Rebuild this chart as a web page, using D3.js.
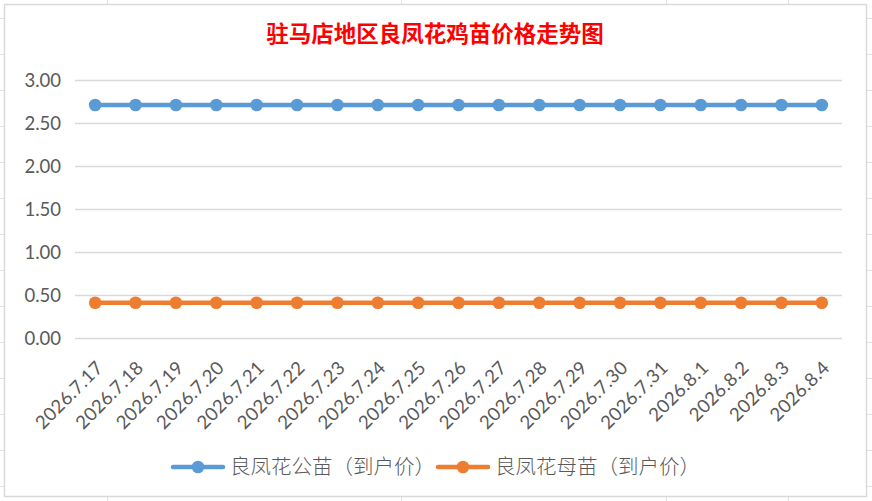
<!DOCTYPE html>
<html><head><meta charset="utf-8">
<script src="https://cdn.jsdelivr.net/npm/d3@7/dist/d3.min.js"></script>
<style>html,body{margin:0;padding:0;background:#fff;}svg{display:block;}</style>
</head><body>
<svg id="c" width="872" height="501"></svg>
<script>
const title = "驻马店地区良凤花鸡苗价格走势图";
const categories = ["2026.7.17","2026.7.18","2026.7.19","2026.7.20","2026.7.21","2026.7.22","2026.7.23","2026.7.24","2026.7.25","2026.7.26","2026.7.27","2026.7.28","2026.7.29","2026.7.30","2026.7.31","2026.8.1","2026.8.2","2026.8.3","2026.8.4"];
const seriesNames = ["良凤花公苗（到户价）","良凤花母苗（到户价）"];
const maleValues = [2.71,2.71,2.71,2.71,2.71,2.71,2.71,2.71,2.71,2.71,2.71,2.71,2.71,2.71,2.71,2.71,2.71,2.71,2.71];
const femaleValues = [0.41,0.41,0.41,0.41,0.41,0.41,0.41,0.41,0.41,0.41,0.41,0.41,0.41,0.41,0.41,0.41,0.41,0.41,0.41];
const yTicks = [0,0.5,1,1.5,2,2.5,3];
const colors = ["#5b9bd5","#ed7d31"];

const svg = d3.select("#c");
const W = 872, H = 501;

// spreadsheet grid behind chart
const sheet = svg.append("g").attr("stroke","#e1e1e1").attr("stroke-width",1);
[107,401,666,788].forEach(x=>sheet.append("line").attr("x1",x+0.5).attr("x2",x+0.5).attr("y1",0).attr("y2",H));
for(let y=18;y<H;y+=36) sheet.append("line").attr("x1",0).attr("x2",W).attr("y1",y+0.5).attr("y2",y+0.5);

// chart area
svg.append("rect").attr("x",4.5).attr("y",4.5).attr("width",862).attr("height",492)
  .attr("fill","#fff").attr("stroke","#d9d9d9").attr("stroke-width",1.5);

const left = 75, right = 842, y0 = 338, y3 = 80;
const x = d3.scaleBand().domain(categories).range([left,right]);
const y = d3.scaleLinear().domain([0,3]).range([y0,y3]);
const cx = d => x(d) + x.bandwidth()/2;

// title
svg.append("text").attr("x",435).attr("y",42).attr("text-anchor","middle")
  .attr("fill","#ff0000").style("font-family","'Noto Sans CJK SC'").style("font-weight","700")
  .style("font-size","22.5px").text(title);

// gridlines
const yAxis = d3.axisLeft(y).tickValues(yTicks).tickSize(-(right-left)).tickFormat(d3.format(".2f")).tickPadding(14);
const ga = svg.append("g").attr("transform",`translate(${left},0)`).call(yAxis);
ga.select(".domain").remove();
ga.selectAll(".tick line").attr("stroke","#d9d9d9").attr("stroke-width",1.5);
ga.selectAll(".tick text").attr("fill","#595959").style("font-family","Lato").style("font-size","18.5px").attr("dy","0.35em");

// x axis labels
const xAxis = d3.axisBottom(x).tickSize(0).tickPadding(0);
const gx = svg.append("g").attr("transform",`translate(0,${y0})`).call(xAxis);
gx.select(".domain").remove();
gx.selectAll(".tick text").attr("fill","#595959").style("font-family","Lato").style("font-size","18.5px")
  .style("letter-spacing","0.3px")
  .attr("text-anchor","end").attr("dy","0").attr("y",0)
  .attr("transform","translate(9,31) rotate(-45)");

// series
const line = d3.line().x((d,i)=>cx(categories[i])).y(d=>y(d));
[maleValues,femaleValues].forEach((vals,k)=>{
  svg.append("path").datum(vals).attr("d",line).attr("fill","none")
    .attr("stroke",colors[k]).attr("stroke-width",4.5).attr("stroke-linejoin","round");
  svg.append("g").selectAll("circle").data(vals).join("circle")
    .attr("cx",(d,i)=>cx(categories[i])).attr("cy",d=>y(d)).attr("r",6.3).attr("fill",colors[k]);
});

// legend
const lg = svg.append("g");
let lx = 173; const ly = 467;
seriesNames.forEach((name,k)=>{
  lg.append("line").attr("x1",lx).attr("x2",lx+50).attr("y1",ly).attr("y2",ly)
    .attr("stroke",colors[k]).attr("stroke-width",4.5).attr("stroke-linecap","round");
  lg.append("circle").attr("cx",lx+25).attr("cy",ly).attr("r",6.3).attr("fill",colors[k]);
  const t = lg.append("text").attr("x",lx+57).attr("y",ly).attr("dy","0.36em")
    .attr("fill","#595959").style("font-family","'Noto Sans CJK SC'").style("font-weight","300")
    .style("font-size","20.5px").text(name);
  lx = lx + 57 + t.node().getComputedTextLength() + 3;
});
</script>
</body></html>
